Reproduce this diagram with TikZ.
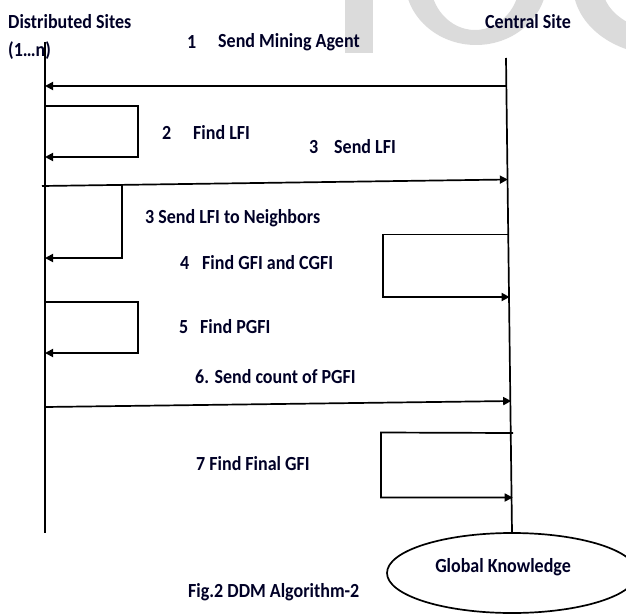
\documentclass[tikz,border=0pt]{standalone}
\usepackage{fontspec}
\setmainfont{Carlito}[FakeStretch=0.9]
\usetikzlibrary{arrows.meta,shapes.geometric}
\tikzset{
  lbl/.style={font=\bfseries\fontsize{20}{22}\selectfont, inner sep=0pt, anchor=west, text=black!85!blue},
  msg/.style={line width=1.7pt, -{Triangle[length=8pt,width=8pt]}},
  lifeline/.style={line width=1.7pt},
  wmark/.style={fill=black!14, draw=none, even odd rule},
  gkbox/.style={ellipse, draw, line width=1.7pt, minimum width=250pt, minimum height=80pt, inner sep=0pt, outer sep=0pt}
}
\begin{document}
\begin{tikzpicture}[x=1pt,y=-1pt]
\useasboundingbox (0,0) rectangle (626,615);
% watermark fragments
\begin{scope}
\clip (0,0) rectangle (626,615);
\fill[wmark] (345,-5) rectangle (373,53);
\fill[wmark] (476,-20) ellipse [x radius=71, y radius=65] (475,-20) ellipse [x radius=45, y radius=50];
\fill[wmark] (662,-15) ellipse [x radius=89, y radius=70] (664,-15) ellipse [x radius=62, y radius=46];
\end{scope}

% texts
\node[lbl] (ds) at (8,22) {Distributed Sites};
\node[lbl] (dn) at (8,51) {(1…n)};
\node[lbl] (cs) at (485,22) {Central Site};
\node[lbl] (n1) at (187,42) {1};
\node[lbl] (t1) at (218,42) {Send Mining Agent};
\node[lbl] (n2) at (162,133) {2};
\node[lbl] (t2) at (193,133) {Find LFI};
\node[lbl] (n3) at (309,147) {3};
\node[lbl] (t3) at (334,147) {Send LFI};
\node[lbl] (t3b) at (145,218) {3 Send LFI to Neighbors};
\node[lbl] (n4) at (180,263) {4};
\node[lbl] (t4) at (202,263) {Find GFI and CGFI};
\node[lbl] (n5) at (179,327) {5};
\node[lbl] (t5) at (200,327) {Find PGFI};
\node[lbl] (t6) at (195,377) {6. Send count of PGFI};
\node[lbl] (t7) at (196,464) {7 Find Final GFI};
\node[lbl] (fig) at (188,592) {Fig.2 DDM Algorithm-2};

% global knowledge ellipse
\node[gkbox] (gk) at (512,573) {};
\node[lbl, anchor=center] (gkt) at (503,567) {Global Knowledge};

% lifelines
\coordinate (Ltop) at (45,42);
\coordinate (Lbot) at (45,533);
\coordinate (Rtop) at (506,58);
\draw[lifeline] (Ltop) -- (Lbot);
\draw[lifeline] (Rtop) -- (gk.north);

% 1 send mining agent
\coordinate (a1s) at (506.4,86);
\coordinate (a1e) at (45,86);
\draw[msg] (a1s) -- (a1e);

% 2 find LFI loop
\coordinate (l2a) at (45,106);
\coordinate (l2b) at (138,106);
\coordinate (l2c) at (138,157);
\coordinate (l2d) at (45,157);
\draw[msg] (l2a) -- (l2b) -- (l2c) -- (l2d);

% 3 send LFI
\coordinate (a3s) at (42,186);
\coordinate (a3e) at (507.8,179.5);
\draw[msg] (a3s) -- (a3e);

% 3 neighbors loop
\coordinate (l3a) at (122,185);
\coordinate (l3b) at (122,258);
\coordinate (l3c) at (45,258);
\draw[msg] (l3a) -- (l3b) -- (l3c);

% 4 find GFI loop (right)
\coordinate (l4a) at (508.6,234.5);
\coordinate (l4b) at (383,234.5);
\coordinate (l4c) at (383,297);
\coordinate (l4d) at (509.6,297);
\draw[msg] (l4a) -- (l4b) -- (l4c) -- (l4d);

% 5 find PGFI loop
\coordinate (l5a) at (45,302);
\coordinate (l5b) at (138,302);
\coordinate (l5c) at (138,353);
\coordinate (l5d) at (45,353);
\draw[msg] (l5a) -- (l5b) -- (l5c) -- (l5d);

% 6 send count
\coordinate (a6s) at (45,407);
\coordinate (a6e) at (511.2,401);
\draw[msg] (a6s) -- (a6e);

% 7 final GFI loop (right)
\coordinate (l7a) at (513,433);
\coordinate (l7b) at (381,432.5);
\coordinate (l7c) at (381,497.5);
\coordinate (l7d) at (512.7,497.5);
\draw[msg] (l7a) -- (l7b) -- (l7c) -- (l7d);
\end{tikzpicture}
\end{document}
